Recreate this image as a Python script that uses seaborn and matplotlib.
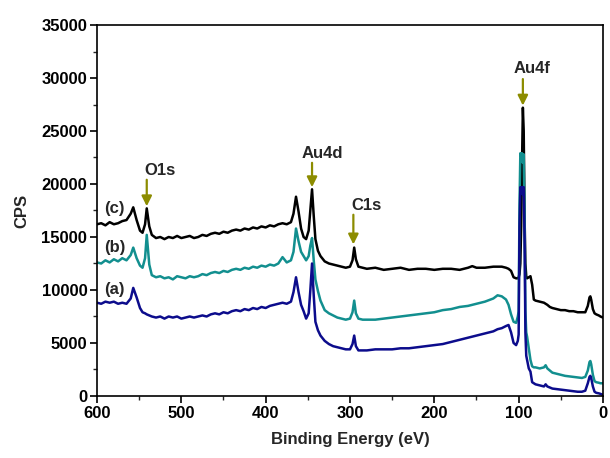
import matplotlib
matplotlib.use("Agg")
import matplotlib.pyplot as plt
import seaborn as sns
import pandas as pd
from matplotlib.ticker import MultipleLocator

# Binding energy grid (eV)
energy = [600, 595, 590, 585, 580, 575, 570, 565, 560, 557,
          553, 549, 546, 543, 541, 538, 535, 530, 525, 520,
          515, 510, 505, 500, 495, 490, 485, 480, 475, 470,
          465, 460, 455, 450, 445, 440, 435, 430, 425, 420,
          415, 410, 405, 400, 395, 390, 385, 380, 375, 370,
          367, 364, 361, 358, 355, 352, 349, 347, 345, 343,
          341, 338, 335, 330, 325, 320, 315, 310, 305, 300,
          297, 295, 293, 290, 285, 280, 270, 260, 250, 240,
          230, 220, 210, 200, 190, 180, 170, 160, 155, 150,
          140, 130, 125, 120, 115, 112, 109, 106, 103, 101,
          100, 99, 98, 97, 96, 95, 94, 93, 92, 91,
          90, 88, 86, 84, 82, 80, 75, 70, 68, 66,
          63, 60, 55, 50, 45, 40, 35, 30, 25, 21,
          18, 16, 15, 14, 12, 10, 8, 5, 3, 0]

cps_c = [16200, 16300, 16100, 16400, 16200, 16300, 16500, 16600, 17200, 17800,
         16600, 15600, 15400, 16200, 17700, 16000, 15200, 14900, 15000, 14800,
         15000, 14900, 15100, 14900, 15000, 15100, 14900, 15000, 15200, 15100,
         15300, 15400, 15300, 15500, 15400, 15600, 15700, 15600, 15800, 15700,
         15900, 15800, 16000, 15900, 16100, 16000, 16200, 16300, 16200, 16400,
         17200, 18800, 17400, 15800, 15000, 14800, 15600, 17500, 19500, 17000,
         14800, 13700, 13200, 12700, 12500, 12400, 12300, 12200, 12100, 12200,
         12800, 14000, 12900, 12200, 12100, 12000, 12100, 11900, 12000, 12100,
         11900, 12000, 12000, 11900, 12000, 12000, 11900, 12100, 12250, 12100,
         12100, 12200, 12200, 12200, 12100, 12000, 11800, 11200, 11100, 11100,
         11200, 11500, 12500, 16000, 22000, 27200, 25000, 17000, 12500, 11300,
         11100, 11200, 11300, 10500, 9100, 9000, 8900, 8800, 8700, 8600,
         8400, 8300, 8200, 8100, 8100, 8000, 8000, 7900, 7900, 7900,
         8500, 9300, 9400, 9100, 8200, 7800, 7700, 7600, 7500, 7400]

cps_b = [12600, 12500, 12800, 12600, 12900, 12700, 13000, 12800, 13300, 14000,
         13000, 12300, 12100, 13000, 15200, 12400, 11400, 11200, 11300, 11100,
         11200, 11000, 11300, 11200, 11100, 11300, 11200, 11300, 11500, 11400,
         11600, 11700, 11600, 11800, 11700, 11900, 12000, 11900, 12100, 12000,
         12200, 12100, 12300, 12200, 12400, 12300, 12500, 13100, 12600, 12800,
         13600, 15800, 14600, 13600, 13200, 12800, 13200, 14200, 14900, 12800,
         11000, 9900, 9000, 8100, 7800, 7600, 7400, 7300, 7200, 7300,
         7900, 9000, 7800, 7300, 7200, 7200, 7200, 7300, 7400, 7500,
         7600, 7700, 7800, 7900, 8100, 8200, 8400, 8500, 8600, 8700,
         8900, 9200, 9500, 9400, 9100, 8600, 7700, 7000, 6900, 7500,
         8000, 18000, 22900, 22600, 22900, 22000, 22800, 17000, 8000, 6000,
         5600, 4500, 3400, 2800, 2700, 2700, 2600, 2700, 2900, 2600,
         2400, 2200, 2100, 2000, 1900, 1850, 1800, 1750, 1700, 1800,
         2400, 3200, 3300, 3000, 2000, 1400, 1300, 1250, 1200, 1200]

cps_a = [8800, 8700, 8900, 8800, 8900, 8700, 8800, 8700, 9200, 10200,
         9300, 8300, 7900, 7800, 7700, 7600, 7500, 7400, 7500, 7300,
         7500, 7400, 7500, 7300, 7400, 7500, 7400, 7500, 7600, 7500,
         7700, 7800, 7700, 7900, 7800, 8000, 8100, 8000, 8200, 8100,
         8300, 8200, 8400, 8300, 8500, 8600, 8700, 8800, 8700, 8900,
         9800, 11200, 9800, 8600, 8000, 7300, 7800, 10000, 12500, 9500,
         7000, 6200, 5700, 5200, 4900, 4700, 4600, 4500, 4400, 4400,
         4900, 5700, 4700, 4300, 4300, 4300, 4400, 4400, 4400, 4500,
         4500, 4600, 4700, 4800, 4900, 5100, 5300, 5500, 5600, 5700,
         5900, 6100, 6300, 6400, 6600, 6700, 6000, 5000, 4800, 5200,
         5800, 16000, 19700, 19500, 19700, 19000, 19700, 15000, 6000, 3800,
         3400, 2600, 2300, 1300, 1200, 1100, 1000, 900, 1100, 900,
         800, 700, 650, 600, 550, 500, 450, 400, 400, 500,
         1200, 1800, 1900, 1700, 900, 400, 300, 250, 200, 100]

samples = ["(c)", "(b)", "(a)"]
colors = ["#000000", "#128f8f", "#0c0c8c"]

peak_labels = ["O1s", "Au4d", "C1s", "Au4f"]
peak_pos = [541, 345, 296, 95]
peak_top = [17900, 19700, 14300, 27400]
label_xy = [(525, 21300), (333, 22900), (281, 18000), (84, 30900)]
arrow_start = [20400, 22000, 17100, 29900]

series_label_y = [17700, 14000, 10000]

df = pd.concat([
    pd.DataFrame({"energy": energy, "cps": vals, "sample": s})
    for s, vals in zip(samples, [cps_c, cps_b, cps_a])
], ignore_index=True)

sns.set_theme(style="ticks")
plt.rcParams["font.family"] = ["Liberation Sans", "DejaVu Sans"]

fig = plt.figure(figsize=(6.1, 4.58), dpi=100)
ax = fig.add_axes([0.159, 0.1354, 0.8295, 0.81])

sns.lineplot(data=df, x="energy", y="cps", hue="sample", hue_order=samples,
             palette=colors, linewidth=1.8, legend=False, ax=ax,
             estimator=None, sort=False)

ax.set_xlim(600, 0)
ax.set_ylim(0, 35000)
ax.xaxis.set_major_locator(MultipleLocator(100))
ax.xaxis.set_minor_locator(MultipleLocator(50))
ax.yaxis.set_major_locator(MultipleLocator(5000))
ax.yaxis.set_minor_locator(MultipleLocator(2500))
ax.tick_params(which="major", direction="out", length=5, width=1.2,
               labelsize=12, colors="black", pad=2)
ax.tick_params(which="minor", direction="out", length=3, width=1.0)
for lab in ax.get_xticklabels() + ax.get_yticklabels():
    lab.set_fontweight("bold")

for sp in ax.spines.values():
    sp.set_visible(True)
    sp.set_linewidth(1.2)
    sp.set_color("black")

ax.set_xlabel("Binding Energy (eV)", fontsize=12, fontweight="bold", labelpad=8)
ax.set_ylabel("CPS", fontsize=12, fontweight="bold", labelpad=9)

olive = "#8c8c00"
for lab, x, top, (tx, ty), ys in zip(peak_labels, peak_pos, peak_top, label_xy, arrow_start):
    ax.annotate("", xy=(x, top), xytext=(x, ys),
                arrowprops=dict(arrowstyle="-|>", color=olive, lw=1.6,
                                mutation_scale=15, shrinkA=0, shrinkB=0))
    ax.text(tx, ty, lab, fontsize=12, fontweight="bold", ha="center", va="center")

for s, y in zip(samples, series_label_y):
    ax.text(579, y, s, fontsize=12, fontweight="bold", ha="center", va="center")

fig.savefig("out.png", dpi=100)
